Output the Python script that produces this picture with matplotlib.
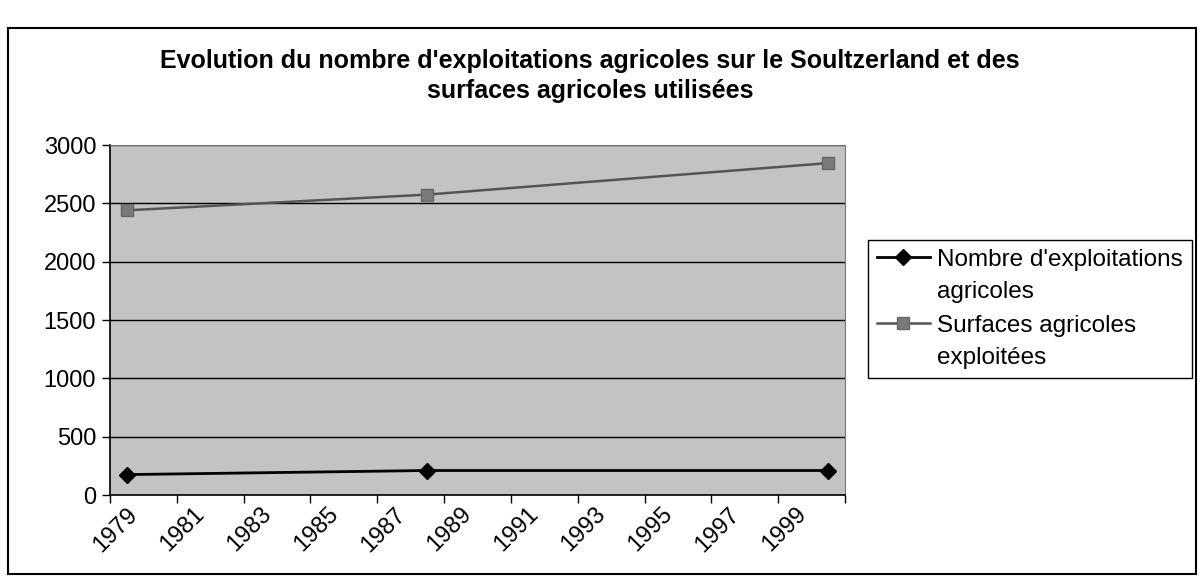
"""
Evolution du nombre d'exploitations agricoles (Soultzerland), style Excel.
"""

import matplotlib
matplotlib.use("Agg")
import matplotlib.pyplot as plt
import numpy as np
from matplotlib.patches import Rectangle

plt.rcParams["font.family"] = ["Liberation Sans", "DejaVu Sans"]

# -- Data -------------------------------------------------------------------
years = [1979, 1988, 2000]
nombre_exploitations = [175, 210, 210]
surfaces_exploitees = [2440, 2575, 2845]

year_labels = list(range(1979, 2000, 2))
y_ticks = list(range(0, 3001, 500))

title = ("Evolution du nombre d'exploitations agricoles sur le Soultzerland et des\n"
         "surfaces agricoles utilisées")
label_nombre = "Nombre d'exploitations\nagricoles"
label_surfaces = "Surfaces agricoles\nexploitées"

# -- Figure -----------------------------------------------------------------
W, H = 1200, 578
fig = plt.figure(figsize=(W / 100, H / 100), dpi=100)
fig.patch.set_facecolor("white")

# chart frame
fig.patches.append(Rectangle((8 / W, 4 / H), 1188 / W, 546 / H,
                             transform=fig.transFigure, fill=False,
                             edgecolor="black", linewidth=1.5))

ax = fig.add_axes([110 / W, 1 - 495 / H, 735 / W, 350 / H])
ax.set_facecolor("#c3c3c3")

ax.plot(years, nombre_exploitations, color="black", linewidth=2,
        marker="D", markersize=8, label=label_nombre)
ax.plot(years, surfaces_exploitees, color="#555555", linewidth=1.8,
        marker="s", markersize=8, markerfacecolor="#7a7a7a",
        markeredgecolor="#666666", label=label_surfaces)

ax.set_xlim(1978.5, 2000.5)
ax.set_ylim(0, 3000)
ax.set_yticks(y_ticks)
ax.yaxis.grid(True, color="black", linewidth=1)
ax.set_axisbelow(True)

# ticks on the year boundaries, labels centred on the years
ax.set_xticks(np.arange(1978.5, 2001, 2))
ax.set_xticklabels([])
ax.set_xticks(year_labels, minor=True)
ax.set_xticklabels([str(y) for y in year_labels], minor=True, rotation=45,
                   ha="right", va="top", rotation_mode="anchor", fontsize=17)
ax.tick_params(axis="x", which="minor", length=0, pad=6)
ax.tick_params(axis="x", which="major", length=6, width=1, direction="out")
ax.tick_params(axis="y", length=6, width=1, labelsize=17, pad=4)

for side in ["top", "right"]:
    ax.spines[side].set_color("#777777")
for side in ["left", "bottom"]:
    ax.spines[side].set_color("black")
    ax.spines[side].set_linewidth(1.2)

fig.text(590 / W, 1 - 76 / H, title, ha="center", va="center",
         fontsize=18, fontweight="bold", linespacing=1.35)

leg = fig.legend(loc="upper left", bbox_to_anchor=(868 / W, 1 - 240 / H),
                 fontsize=17.5, frameon=True, fancybox=False, edgecolor="black",
                 framealpha=1, handlelength=2.2, borderpad=0.35, labelspacing=0.5,
                 handletextpad=0.3, borderaxespad=0)
for t in leg.get_texts():
    t.set_linespacing(1.6)
# put each marker beside the first line of its label, as Excel does
for column in leg._legend_handle_box.get_children():
    for row in column.get_children():
        row.align = "top"

fig.savefig("out.png", dpi=100)
